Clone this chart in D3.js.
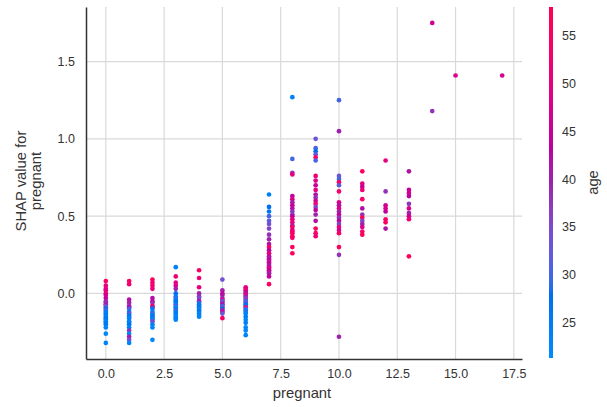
<!DOCTYPE html>
<html>
<head>
<meta charset="utf-8">
<script src="https://cdn.jsdelivr.net/npm/d3@7"></script>
<style>
  html, body { margin: 0; padding: 0; background: #ffffff; }
  svg { display: block; font-family: "Liberation Sans", Arial, sans-serif; }
</style>
</head>
<body>
<svg id="chart" width="607" height="407"></svg>
<script>
// Number of pregnancies (x positions of each vertical strip)
const pregnantValues = [0, 1, 2, 3, 4, 5, 6, 7, 8, 9, 10, 11, 12, 13, 14, 15, 17];

// SHAP values for "pregnant", one list per pregnancy count
const shapByPregnant = [
  [0.08, 0.05, 0.03, 0.02, 0.00, -0.01, -0.03, -0.05, -0.06, -0.07, -0.08, -0.09, -0.10, -0.11, -0.12, -0.13, -0.14, -0.15, -0.16, -0.17, -0.18, -0.19, -0.20, -0.22, -0.26, -0.32],
  [0.08, 0.06, -0.04, -0.06, -0.08, -0.09, -0.10, -0.12, -0.13, -0.14, -0.15, -0.16, -0.18, -0.19, -0.20, -0.22, -0.24, -0.26, -0.28, -0.30, -0.32],
  [0.09, 0.07, 0.05, 0.03, -0.03, -0.05, -0.06, -0.08, -0.09, -0.10, -0.12, -0.13, -0.14, -0.15, -0.16, -0.17, -0.18, -0.20, -0.22, -0.30],
  [0.17, 0.11, 0.07, 0.05, 0.03, 0.00, -0.02, -0.03, -0.04, -0.05, -0.06, -0.07, -0.08, -0.09, -0.10, -0.11, -0.12, -0.13, -0.14, -0.15, -0.16, -0.17],
  [0.15, 0.10, 0.04, 0.00, -0.02, -0.03, -0.05, -0.06, -0.07, -0.08, -0.09, -0.10, -0.11, -0.12, -0.13, -0.14, -0.15],
  [0.09, 0.02, 0.00, -0.01, -0.03, -0.04, -0.05, -0.06, -0.07, -0.08, -0.09, -0.10, -0.11, -0.12, -0.13, -0.16],
  [0.04, 0.03, 0.02, 0.01, 0.00, -0.01, -0.02, -0.03, -0.04, -0.05, -0.06, -0.07, -0.08, -0.09, -0.10, -0.11, -0.12, -0.13, -0.15, -0.17, -0.19, -0.22, -0.24, -0.27],
  [0.64, 0.56, 0.53, 0.50, 0.47, 0.45, 0.42, 0.38, 0.35, 0.32, 0.30, 0.28, 0.26, 0.24, 0.23, 0.22, 0.21, 0.20, 0.19, 0.18, 0.17, 0.16, 0.15, 0.14, 0.13, 0.11, 0.06],
  [1.27, 0.87, 0.78, 0.77, 0.63, 0.61, 0.59, 0.57, 0.55, 0.53, 0.51, 0.50, 0.48, 0.46, 0.44, 0.43, 0.41, 0.40, 0.39, 0.37, 0.36, 0.30, 0.26],
  [1.00, 0.94, 0.92, 0.90, 0.88, 0.86, 0.76, 0.73, 0.70, 0.67, 0.64, 0.62, 0.60, 0.58, 0.56, 0.54, 0.51, 0.47, 0.42, 0.39, 0.37],
  [1.25, 1.05, 0.76, 0.74, 0.72, 0.70, 0.66, 0.59, 0.57, 0.55, 0.53, 0.51, 0.49, 0.47, 0.45, 0.43, 0.41, 0.39, 0.30, 0.25, -0.28],
  [0.79, 0.71, 0.69, 0.67, 0.61, 0.55, 0.51, 0.49, 0.47, 0.45, 0.43, 0.40, 0.38],
  [0.86, 0.66, 0.57, 0.55, 0.53, 0.48, 0.46, 0.42],
  [0.79, 0.67, 0.65, 0.63, 0.58, 0.55, 0.52, 0.50, 0.48, 0.24],
  [1.75, 1.18],
  [1.41],
  [1.41]
];

// Age of each sample, aligned with shapByPregnant
const ageByPregnant = [
  [55, 50, 52, 48, 54, 46, 45, 40, 38, 42, 35, 33, 28, 30, 25, 24, 26, 23, 27, 25, 22, 24, 26, 23, 22, 23],
  [55, 52, 42, 40, 38, 44, 30, 26, 35, 24, 28, 23, 25, 22, 27, 24, 38, 22, 40, 35, 23],
  [56, 52, 54, 50, 42, 45, 38, 55, 40, 26, 24, 30, 23, 28, 25, 22, 35, 24, 23, 22],
  [24, 52, 50, 48, 40, 28, 25, 30, 23, 26, 27, 24, 32, 22, 25, 29, 23, 26, 24, 22, 25, 23],
  [55, 52, 50, 40, 38, 35, 42, 30, 26, 24, 28, 23, 25, 27, 22, 24, 23],
  [34, 40, 45, 42, 38, 50, 32, 36, 44, 30, 35, 28, 40, 46, 33, 55],
  [52, 48, 55, 45, 42, 50, 40, 36, 38, 30, 34, 28, 26, 55, 32, 24, 29, 23, 25, 22, 24, 23, 22, 23],
  [24, 28, 26, 30, 32, 34, 36, 38, 40, 42, 55, 44, 50, 46, 40, 45, 42, 48, 44, 40, 46, 50, 43, 47, 41, 45, 55],
  [23, 30, 38, 50, 44, 48, 40, 46, 42, 38, 36, 45, 50, 52, 40, 55, 48, 56, 53, 57, 54, 55, 56],
  [33, 30, 28, 32, 55, 30, 52, 48, 45, 50, 42, 38, 47, 53, 36, 44, 40, 42, 56, 54, 52],
  [30, 40, 33, 30, 55, 32, 54, 48, 42, 50, 40, 45, 38, 44, 36, 52, 47, 55, 56, 38, 40],
  [55, 50, 45, 52, 54, 42, 38, 56, 35, 40, 48, 54, 56],
  [50, 38, 46, 48, 44, 54, 56, 42],
  [42, 45, 47, 44, 38, 48, 40, 46, 52, 56],
  [46, 38],
  [48],
  [47]
];

// Tick values
const xTicks = [0, 2.5, 5, 7.5, 10, 12.5, 15, 17.5];
const yTicks = [0, 0.5, 1.0, 1.5];
const ageTicks = [25, 30, 35, 40, 45, 50, 55];
const ageRange = [21.3, 58];

// Plot geometry
const plot = { left: 86, right: 522, top: 7, bottom: 359 };
const cbar = { x: 549, width: 4, top: 7, bottom: 358 };
const axisColor = "#333333";
const gridColor = "#d9d9d9";
const tickFont = 12.5;
const labelFont = 14.8;

const svg = d3.select("#chart");

const x = d3.scaleLinear().domain([-0.85, 17.85]).range([plot.left, plot.right]);
const y = d3.scaleLinear().domain([-0.424, 1.853]).range([plot.bottom, plot.top]);

// Blue-to-red colormap built in LCh space (lightness dips in the middle)
function lab2rgb(L, a, b) {
  let fy = (L + 16) / 116, fx = fy + a / 500, fz = fy - b / 200;
  const finv = t => (t > 0.2068966 ? t * t * t : (t - 16 / 116) / 7.787);
  const X = finv(fx) * 0.95047, Y = finv(fy), Z = finv(fz) * 1.08883;
  let r = 3.2404542 * X - 1.5371385 * Y - 0.4985314 * Z;
  let g = -0.9692660 * X + 1.8760108 * Y + 0.0415560 * Z;
  let bb = 0.0556434 * X - 0.2040259 * Y + 1.0572252 * Z;
  const gam = v => {
    v = v > 0.0031308 ? 1.055 * Math.pow(v, 1 / 2.4) - 0.055 : 12.92 * v;
    return Math.round(255 * Math.max(0, Math.min(1, v)));
  };
  return `rgb(${gam(r)},${gam(g)},${gam(bb)})`;
}
function redBlue(t) {
  t = Math.max(0, Math.min(1, t));
  const L = t < 0.5 ? 54 + (40 - 54) * (t / 0.5) : 40 + (54 - 40) * ((t - 0.5) / 0.5);
  const C = 70 + (90 - 70) * t;
  const h0 = 4.6588, h1 = 0.35470565 + 2 * Math.PI;
  const H = h0 + (h1 - h0) * t;
  return lab2rgb(L, C * Math.cos(H), C * Math.sin(H));
}
const ageNorm = d3.scaleLinear().domain(ageRange).range([0, 1]).clamp(true);
const color = v => redBlue(ageNorm(v));

// Flatten the samples
const samples = [];
pregnantValues.forEach((p, i) => {
  shapByPregnant[i].forEach((s, j) => {
    samples.push({ pregnant: p, shap: s, age: ageByPregnant[i][j] });
  });
});

// Grid
const grid = svg.append("g");
grid.selectAll("line.vx").data(xTicks).join("line")
  .attr("x1", d => x(d)).attr("x2", d => x(d))
  .attr("y1", plot.top).attr("y2", plot.bottom)
  .attr("stroke", gridColor).attr("stroke-width", 1.2);
grid.selectAll("line.hy").data(yTicks).join("line")
  .attr("x1", plot.left).attr("x2", plot.right)
  .attr("y1", d => y(d)).attr("y2", d => y(d))
  .attr("stroke", gridColor).attr("stroke-width", 1.2);

// Points
svg.append("g").selectAll("circle").data(samples).join("circle")
  .attr("cx", d => x(d.pregnant))
  .attr("cy", d => y(d.shap))
  .attr("r", 2.35)
  .attr("fill", d => color(d.age));

// Axes (no tick marks, spines on left and bottom)
const xAxis = svg.append("g").attr("transform", `translate(0,${plot.bottom})`)
  .call(d3.axisBottom(x).tickValues(xTicks).tickFormat(d3.format(".1f")).tickSize(0).tickPadding(10));
const yAxis = svg.append("g").attr("transform", `translate(${plot.left},0)`)
  .call(d3.axisLeft(y).tickValues(yTicks).tickFormat(d3.format(".1f")).tickSize(0).tickPadding(11));
[xAxis, yAxis].forEach(ax => {
  ax.select(".domain").attr("stroke", axisColor).attr("stroke-width", 1.5);
  ax.selectAll("text").attr("fill", axisColor).attr("font-size", tickFont)
    .attr("font-family", "Liberation Sans, Arial, sans-serif");
});

// Axis labels
svg.append("text")
  .attr("x", 302).attr("y", 398)
  .attr("text-anchor", "middle").attr("font-size", labelFont).attr("fill", axisColor)
  .text("pregnant");
const yl = svg.append("text")
  .attr("transform", `translate(26,181) rotate(-90)`)
  .attr("text-anchor", "middle").attr("font-size", labelFont).attr("fill", axisColor);
yl.append("tspan").attr("x", 0).attr("dy", 0).text("SHAP value for");
yl.append("tspan").attr("x", 0).attr("dy", 15).text("pregnant");

// Colorbar
const defs = svg.append("defs");
const grad = defs.append("linearGradient").attr("id", "ageGrad")
  .attr("x1", 0).attr("y1", 1).attr("x2", 0).attr("y2", 0);
d3.range(0, 1.0001, 0.02).forEach(t => {
  grad.append("stop").attr("offset", t).attr("stop-color", redBlue(t));
});
svg.append("rect")
  .attr("x", cbar.x).attr("y", cbar.top)
  .attr("width", cbar.width).attr("height", cbar.bottom - cbar.top)
  .attr("fill", "url(#ageGrad)");
const ageScale = d3.scaleLinear().domain(ageRange).range([cbar.bottom, cbar.top]);
const cAxis = svg.append("g").attr("transform", `translate(${cbar.x + cbar.width},0)`)
  .call(d3.axisRight(ageScale).tickValues(ageTicks).tickSize(0).tickPadding(9));
cAxis.select(".domain").remove();
cAxis.selectAll("text").attr("fill", axisColor).attr("font-size", tickFont)
  .attr("font-family", "Liberation Sans, Arial, sans-serif");
svg.append("text")
  .attr("transform", `translate(598,${(cbar.top + cbar.bottom) / 2}) rotate(-90)`)
  .attr("text-anchor", "middle").attr("font-size", labelFont).attr("fill", axisColor)
  .text("age");
</script>
</body>
</html>
